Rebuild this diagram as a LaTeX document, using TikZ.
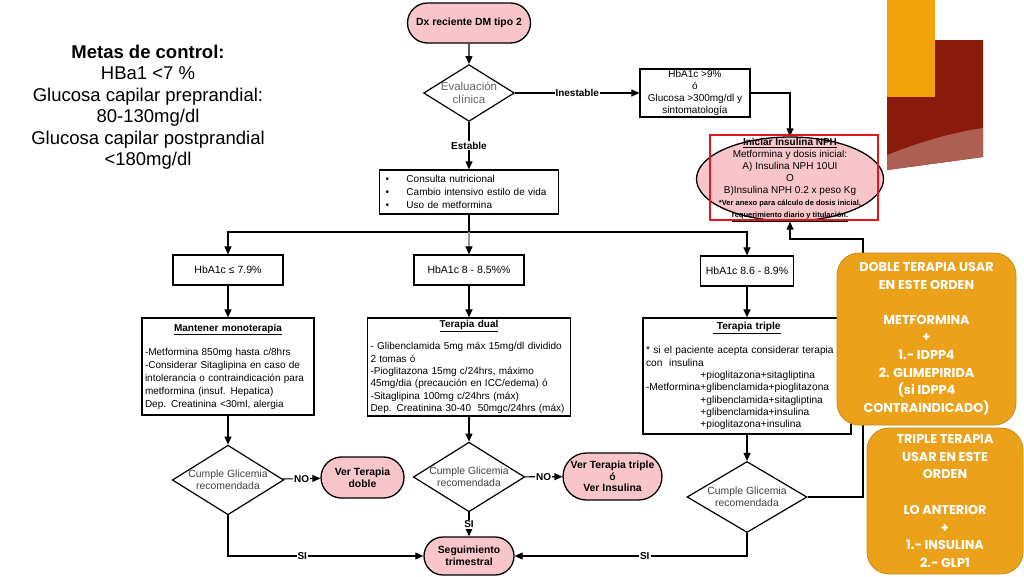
\documentclass[tikz,border=0pt]{standalone}
\usepackage{fontspec}
\setmainfont{Liberation Sans}
\newfontfamily\notafont{Poppins}
\usepackage{tikz}
\usetikzlibrary{
  arrows.meta,
  positioning,
  shapes.geometric,
  shapes.misc,
}
\definecolor{pillpink}{HTML}{F8C6CA}
\definecolor{notaorange}{HTML}{EBA21A}
\definecolor{framered}{HTML}{E0161E}
\definecolor{decorange}{HTML}{F0A30A}
\definecolor{decred}{HTML}{8A1A0B}

\begin{document}
\begin{tikzpicture}[
    x=1pt, y=-1pt,
    pill/.style={rounded rectangle, draw, line width=1.3pt, fill=pillpink, inner sep=1pt,
      font=\fontsize{10.4}{12}\selectfont\bfseries, align=center},
    box/.style={rectangle, draw, line width=1.2pt, fill=white, inner ysep=1pt,
      font=\fontsize{10.5}{12}\selectfont, align=center},
    txt/.style={rectangle, draw, line width=1.2pt, fill=white, inner xsep=3pt, inner ysep=2pt,
      font=\fontsize{10}{13}\selectfont, align=left},
    dec/.style={diamond, draw, line width=1.2pt, fill=white, inner sep=0pt, aspect=1.6,
      font=\fontsize{10.4}{12.5}\selectfont, text=black!75, align=center},
    arr/.style={-{Triangle[length=8pt,width=7pt]}, line width=1.1pt},
    lbl/.style={fill=white, inner sep=1pt, font=\fontsize{10}{12}\selectfont\bfseries},
    nota/.style={rectangle, rounded corners=22pt, draw=notaorange!85!black, line width=0.8pt,
      fill=notaorange, text=white, align=center,
      font=\notafont\fontsize{12.8}{17.7}\selectfont\bfseries},
  ]
  \useasboundingbox (0,0) rectangle (1024,576);

  % adorno de la diapositiva
  \fill[decred] (887,40) -- (983,40) -- (983,157) -- (887,170) -- cycle;
  \fill[decred!70!white] (887,155) .. controls (920,142) and (950,133) .. (983,128)
    -- (983,157) -- (887,170) -- cycle;
  \fill[decorange] (887,0) rectangle (935,97);

  \node[align=center, font=\fontsize{18.5}{21.5}\selectfont] (metas) at (148,107)
    {\textbf{Metas de control:}\\HBa1 <7 \%\\Glucosa capilar preprandial:\\80-130mg/dl\\
     Glucosa capilar postprandial\\<180mg/dl};

  \node[pill, minimum width=125pt, minimum height=40pt] (dx) at (469,23) {Dx reciente DM tipo 2};
  \node[dec, minimum width=90pt, minimum height=54pt, text=black!60, font=\fontsize{11.5}{13}\selectfont]
    (eval) at (469,93) {Evaluación\\clínica};
  \node[box, minimum width=110pt, minimum height=48pt, font=\fontsize{10}{12}\selectfont] (hb9) at (695,93)
    {HbA1c >9\%\\ó\\Glucosa >300mg/dl y\\sintomatología};

  \node[ellipse, draw, line width=1.3pt, fill=pillpink, minimum width=187pt, minimum height=84pt,
    inner sep=0pt] (npH) at (790,179) {};
  \node[align=center, font=\fontsize{10}{12}\selectfont] (npHtxt) at (790,180)
    {\textbf{\underline{Iniciar Insulina NPH}}\\Metformina y dosis inicial:\\A) Insulina NPH 10UI\\O\\
     B)Insulina NPH 0.2 x peso Kg\\
     {\fontsize{7.5}{11}\selectfont\bfseries *Ver anexo para cálculo de dosis inicial,}\\
     {\fontsize{7.5}{11}\selectfont\bfseries \underline{requerimiento diario y titulación.}}};

  \node[txt, minimum width=179pt, minimum height=44pt, text width=167pt, inner xsep=6pt] (lista) at (469,192)
    {\makebox[21pt][l]{\textbullet}Consulta nutricional\\
     \makebox[21pt][l]{\textbullet}Cambio intensivo estilo de vida\\
     \makebox[21pt][l]{\textbullet}Uso de metformina};

  \node[box, minimum width=110pt, minimum height=30pt] (hbA) at (228,270) {HbA1c ≤ 7.9\%};
  \node[box, minimum width=110pt, minimum height=30pt] (hbB) at (469,270) {HbA1c 8 - 8.5\%\%};
  \node[box, minimum width=93pt, minimum height=30pt] (hbC) at (747,271) {HbA1c 8.6 - 8.9\%};

  \node[txt, minimum height=97pt, text width=166pt] (mono) at (228,366.5)
    {\makebox[\linewidth]{\bfseries\underline{Mantener monoterapia}}\\[11pt]
     -Metformina 850mg hasta c/8hrs\\
     -Considerar Sitaglipina en caso de\\
     intolerancia o contraindicación para\\
     metformina (insuf. Hepatica)\\
     Dep. Creatinina <30ml, alergia};
  \node[txt, minimum height=98pt, text width=197pt, font=\fontsize{10}{12.4}\selectfont] (dual) at (469,367)
    {\makebox[\linewidth]{\bfseries\underline{Terapia dual}}\\[10pt]
     - Glibenclamida 5mg máx 15mg/dl dividido\\
     2 tomas ó\\
     -Pioglitazona 15mg c/24hrs, máximo\\
     45mg/dia (precaución en ICC/edema) ó\\
     -Sitaglipina 100mg c/24hrs (máx)\\
     Dep. Creatinina 30-40\ \ 50mgc/24hrs (máx)};
  \node[txt, minimum height=116pt, text width=202pt, font=\fontsize{10.2}{12.3}\selectfont] (triple) at (747,376)
    {\makebox[\linewidth]{\bfseries\underline{\ Terapia triple}}\\[12pt]
     * si el paciente acepta considerar terapia\\
     con\ \ insulina\\
     \phantom{-Metformina}+pioglitazona+sitagliptina\\
     -Metformina+glibenclamida+pioglitazona\\
     \phantom{-Metformina}+glibenclamida+sitagliptina\\
     \phantom{-Metformina}+glibenclamida+insulina\\
     \phantom{-Metformina}+pioglitazona+insulina};

  \node[dec, minimum width=109pt, minimum height=65pt] (cumA) at (228,480) {Cumple Glicemia\\recomendada};
  \node[dec, minimum width=108pt, minimum height=64pt] (cumB) at (469,477) {Cumple Glicemia\\recomendada};
  \node[dec, minimum width=120pt, minimum height=71pt] (cumC) at (747,497) {Cumple Glicemia\\recomendada};

  \node[pill, minimum width=85pt, minimum height=41pt] (verD) at (362.5,477.5) {Ver Terapia\\doble};
  \node[pill, minimum width=101pt, minimum height=47pt, font=\fontsize{10.4}{11.5}\selectfont\bfseries]
    (verT) at (612.5,476.5) {Ver Terapia triple\\ó\\Ver Insulina};
  \node[pill, minimum width=92pt, minimum height=38pt] (seg) at (469,556) {Seguimiento\\trimestral};

  \draw[arr] (dx) -- (eval);
  \draw[arr] (eval) -- node[lbl] {Inestable} (hb9);
  \draw[arr] (hb9.east) -| (npH.north);
  \draw[arr] (eval) -- node[lbl] {Estable} (lista);
  \coordinate (split) at (469,232);
  \draw[line width=1.1pt] (lista) -- (split);
  \draw[arr] (split) -| (hbA.north);
  \draw[arr] (split) -| (hbC.north);
  \draw[-{Triangle[length=8pt,width=7pt,black]}, line width=1.1pt, black!40] (split) -- (hbB);
  \draw[arr] (hbA) -- (mono);
  \draw[arr] (hbB) -- (dual);
  \draw[arr] (hbC) -- (triple);
  \draw[arr] (mono) -- (cumA);
  \draw[arr] (dual) -- (cumB);
  \draw[arr] (triple) -- (cumC);
  \draw[arr] (cumA) -- node[lbl] {NO} (verD);
  \draw[arr] (cumB) -- node[lbl] {NO} (verT);
  \draw[arr] (cumA) |- node[lbl, pos=0.69] {SI} (seg);
  \draw[arr] (cumB) -- node[lbl] {SI} (seg);
  \draw[arr] (cumC) |- node[lbl, pos=0.72] {SI} (seg);
  \coordinate (ret) at (863,239);
  \draw[arr] (cumC) -| (ret) -| (npH.south);

  \node[draw=framered, line width=1.8pt, minimum width=168pt, minimum height=85pt, inner sep=0pt]
    (marco) at (794,177.5) {};

  \node[nota, minimum width=179pt, minimum height=172pt] (nota1) at (926.5,339)
    {DOBLE TERAPIA USAR\\EN ESTE ORDEN\\[17pt]METFORMINA\\+\\1.- IDPP4\\2. GLIMEPIRIDA\\
     (si IDPP4\\CONTRAINDICADO)};
  \node[nota, minimum width=156pt, minimum height=146pt] (nota2) at (945,501)
    {TRIPLE TERAPIA\\USAR EN ESTE\\ORDEN\\[18pt]LO ANTERIOR\\+\\1.- INSULINA\\2.- GLP1};
\end{tikzpicture}
\end{document}
